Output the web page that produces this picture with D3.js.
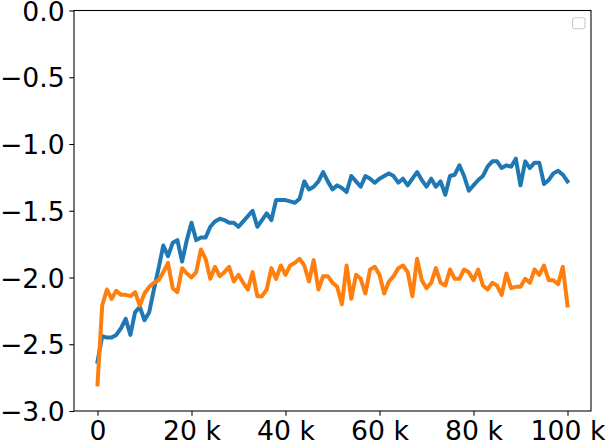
<!DOCTYPE html>
<html>
<head>
<meta charset="utf-8">
<script src="https://cdn.jsdelivr.net/npm/d3@7"></script>
<style>
  html, body { margin: 0; padding: 0; background: #ffffff; }
  svg { display: block; }
</style>
</head>
<body>
<svg id="chart" width="606" height="443"></svg>
<script>
// ---- data ----
const steps = d3.range(0, 101); // thousands of steps, 0 .. 100 k

const seriesBlue = [
  -2.63, -2.44, -2.45, -2.45, -2.43, -2.38, -2.31, -2.43, -2.26, -2.22,
  -2.32, -2.26, -2.09, -1.93, -1.76, -1.84, -1.74, -1.72, -1.88, -1.72,
  -1.59, -1.72, -1.70, -1.70, -1.62, -1.58, -1.56, -1.57, -1.59, -1.59,
  -1.62, -1.58, -1.54, -1.50, -1.62, -1.57, -1.52, -1.57, -1.42, -1.42,
  -1.42, -1.43, -1.44, -1.41, -1.28, -1.34, -1.32, -1.28, -1.21, -1.28,
  -1.34, -1.31, -1.33, -1.36, -1.24, -1.28, -1.32, -1.24, -1.26, -1.29,
  -1.26, -1.24, -1.22, -1.24, -1.29, -1.26, -1.31, -1.26, -1.21, -1.27,
  -1.32, -1.26, -1.32, -1.28, -1.38, -1.24, -1.23, -1.16, -1.24, -1.35,
  -1.31, -1.27, -1.24, -1.17, -1.13, -1.13, -1.18, -1.16, -1.17, -1.11,
  -1.31, -1.13, -1.18, -1.14, -1.14, -1.30, -1.27, -1.22, -1.20, -1.23,
  -1.28
];

const seriesOrange = [
  -2.80, -2.21, -2.09, -2.16, -2.10, -2.13, -2.13, -2.14, -2.11, -2.21,
  -2.12, -2.07, -2.04, -2.02, -1.96, -1.89, -2.08, -2.11, -1.93, -1.97,
  -2.00, -1.96, -1.79, -1.86, -2.01, -1.92, -1.99, -1.96, -1.92, -2.03,
  -1.98, -2.04, -2.09, -1.96, -2.14, -2.14, -2.09, -1.93, -2.01, -1.91,
  -1.98, -1.91, -1.89, -1.86, -1.91, -2.03, -1.87, -2.09, -1.99, -1.99,
  -2.04, -2.07, -2.20, -1.91, -2.16, -1.98, -2.01, -2.12, -1.94, -1.92,
  -1.98, -2.12, -2.03, -1.99, -1.93, -1.91, -1.96, -2.14, -1.86, -2.02,
  -2.08, -2.04, -1.93, -2.04, -2.06, -1.94, -2.01, -2.01, -1.94, -1.96,
  -2.02, -1.94, -2.06, -2.09, -2.04, -2.06, -2.13, -1.97, -2.08, -2.07,
  -2.07, -2.01, -2.04, -1.94, -1.98, -1.91, -2.02, -2.02, -2.05, -1.92,
  -2.21
];

const xTicks = [0, 20, 40, 60, 80, 100];
const xTickLabels = ["0", "20 k", "40 k", "60 k", "80 k", "100 k"];
const yTicks = [0, -0.5, -1.0, -1.5, -2.0, -2.5, -3.0];
const yTickLabels = ["0.0", "\u22120.5", "\u22121.0", "\u22121.5", "\u22122.0", "\u22122.5", "\u22123.0"];

const seriesColors = ["#1f77b4", "#ff7f0e"];

// ---- layout ----
const plot = { left: 74, top: 10.5, right: 591, bottom: 411 };
const fontSize = 26.67;
const tickLen = 4.67;

const svg = d3.select("#chart");

const x = d3.scaleLinear().domain([-5, 105]).range([plot.left, plot.right]);
const y = d3.scaleLinear().domain([-3, 0]).range([plot.bottom, plot.top]);

// lines
const line = d3.line()
  .x((d, i) => x(steps[i]))
  .y(d => y(d));

[seriesBlue, seriesOrange].forEach((s, i) => {
  svg.append("path")
    .datum(s)
    .attr("d", line)
    .attr("fill", "none")
    .attr("stroke", seriesColors[i])
    .attr("stroke-width", 4)
    .attr("stroke-linejoin", "round")
    .attr("stroke-linecap", "square");
});

// frame
svg.append("rect")
  .attr("x", plot.left)
  .attr("y", plot.top)
  .attr("width", plot.right - plot.left)
  .attr("height", plot.bottom - plot.top)
  .attr("fill", "none")
  .attr("stroke", "#000")
  .attr("stroke-width", 1.07);

// axes
const xAxis = d3.axisBottom(x)
  .tickValues(xTicks)
  .tickFormat((d, i) => xTickLabels[i])
  .tickSize(tickLen)
  .tickPadding(tickLen)
  .tickSizeOuter(0);

const yAxis = d3.axisLeft(y)
  .tickValues(yTicks)
  .tickFormat((d, i) => yTickLabels[i])
  .tickSize(tickLen)
  .tickPadding(tickLen)
  .tickSizeOuter(0);

const gx = svg.append("g")
  .attr("transform", `translate(0,${plot.bottom})`)
  .call(xAxis);
const gy = svg.append("g")
  .attr("transform", `translate(${plot.left},0)`)
  .call(yAxis);

[gx, gy].forEach(g => {
  g.select(".domain").remove();
  g.selectAll(".tick line").attr("stroke", "#000").attr("stroke-width", 1.07);
  g.selectAll(".tick text")
    .attr("fill", "#000")
    .style("font-family", "'DejaVu Sans', sans-serif")
    .style("font-size", fontSize + "px");
});
gx.selectAll(".tick text").attr("dy", "0.72em");
gy.selectAll(".tick text").attr("dy", "0.3645em");

// empty legend box (top right)
svg.append("rect")
  .attr("x", 572.5)
  .attr("y", 17.7)
  .attr("width", 12.5)
  .attr("height", 11)
  .attr("rx", 2.5)
  .attr("fill", "#ffffff")
  .attr("fill-opacity", 0.8)
  .attr("stroke", "#cccccc")
  .attr("stroke-width", 1.07);
</script>
</body>
</html>
